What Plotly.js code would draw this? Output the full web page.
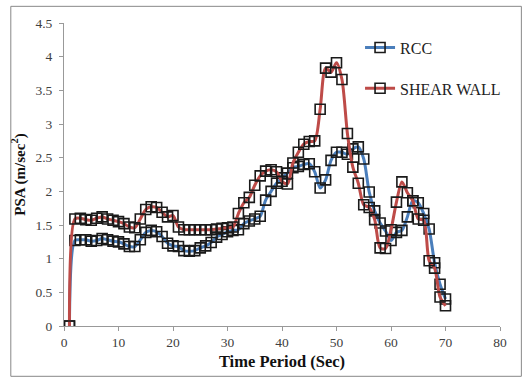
<!DOCTYPE html>
<html>
<head>
<meta charset="utf-8">
<script src="https://cdn.plot.ly/plotly-3.0.1.min.js"></script>
<style>html,body{margin:0;padding:0;background:#fff;}#chart{width:524px;height:379px;}</style>
</head>
<body>
<div id="chart"></div>
<script>
const timePeriod = [1,2,3,4,5,6,7,8,9,10,11,12,13,14,15,16,17,18,19,20,21,22,23,24,25,26,27,28,29,30,31,32,33,34,35,36,37,38,39,40,41,42,43,44,45,46,47,48,49,50,51,52,53,54,55,56,57,58,59,60,61,62,63,64,65,66,67,68,69,70];

const rccPSA = [0,1.27,1.28,1.28,1.26,1.27,1.30,1.28,1.26,1.25,1.22,1.18,1.18,1.28,1.39,1.42,1.40,1.33,1.23,1.19,1.18,1.12,1.11,1.12,1.16,1.19,1.24,1.32,1.36,1.40,1.42,1.43,1.52,1.56,1.59,1.63,1.87,2.00,2.12,2.20,2.27,2.35,2.37,2.40,2.41,2.29,2.05,2.17,2.46,2.58,2.58,2.55,2.63,2.66,2.48,1.99,1.71,1.53,1.41,1.27,1.39,1.42,1.62,1.86,1.83,1.67,1.44,0.94,0.62,0.40];

const shearWallPSA = [0,1.59,1.60,1.58,1.57,1.60,1.62,1.59,1.57,1.55,1.52,1.47,1.46,1.59,1.73,1.77,1.76,1.69,1.62,1.64,1.47,1.43,1.43,1.43,1.43,1.43,1.43,1.44,1.45,1.46,1.47,1.67,1.83,1.91,2.09,2.23,2.30,2.32,2.29,2.15,2.11,2.42,2.58,2.70,2.74,2.75,3.22,3.83,3.77,3.91,3.66,2.86,2.36,2.12,1.80,1.76,1.58,1.16,1.15,1.43,1.84,2.14,1.98,1.86,1.59,1.57,0.97,0.86,0.43,0.30];

const seriesNames = ['RCC', 'SHEAR WALL'];
const xTicks = [0,10,20,30,40,50,60,70,80];
const yTicks = [0,0.5,1,1.5,2,2.5,3,3.5,4,4.5];
const yTickText = ['0','0.5','1','1.5','2','2.5','3','3.5','4','4.5'];

const serif = 'Liberation Serif';
const markerStyle = {symbol: 'square-open', size: 10, color: '#1a1a1a', line: {width: 1.6, color: '#1a1a1a'}};

const traces = [
  {x: timePeriod, y: rccPSA, name: seriesNames[0], type: 'scatter', mode: 'lines+markers',
   line: {color: '#4A7EBB', width: 3, shape: 'spline', smoothing: 0.8}, marker: markerStyle, legendgroup: 'a'},
  {x: timePeriod, y: shearWallPSA, name: seriesNames[1], type: 'scatter', mode: 'lines+markers',
   line: {color: '#BE4B48', width: 3, shape: 'spline', smoothing: 0.8}, marker: markerStyle, legendgroup: 'b'}
];

const layout = {
  width: 524, height: 379,
  font: {family: serif},
  margin: {l: 64, r: 24, t: 23, b: 53},
  paper_bgcolor: '#fff', plot_bgcolor: '#fff',
  showlegend: true,
  legend: {x: 0.679, y: 0.975, xanchor: 'left', yanchor: 'top', bgcolor: 'rgba(0,0,0,0)',
           font: {family: serif, size: 16, color: '#222'}, tracegroupgap: 17, traceorder: 'grouped', itemwidth: 30},
  xaxis: {range: [0, 80], tickvals: xTicks, ticks: 'outside', ticklen: 4, tickcolor: '#999', showline: true,
          linecolor: '#999', linewidth: 1, showgrid: false, zeroline: false,
          tickfont: {family: serif, size: 13.5, color: '#404040'},
          title: {text: 'Time Period (Sec)', font: {family: serif, size: 16.5, color: '#111', weight: 'bold'}, standoff: 6}},
  yaxis: {range: [0, 4.5], tickvals: yTicks, ticktext: yTickText, ticks: 'outside', ticklen: 4, tickcolor: '#999', showline: true,
          linecolor: '#999', linewidth: 1, showgrid: false, zeroline: false, ticklabelstandoff: 4,
          tickfont: {family: serif, size: 13.5, color: '#404040'},
          title: {text: 'PSA (m/sec<sup>2</sup>)', font: {family: serif, size: 15, color: '#111', weight: 'bold'}, standoff: 6}},
  shapes: [{type: 'rect', xref: 'paper', yref: 'paper', x0: -0.122, x1: 1.049, y0: -0.166, y1: 1.055,
            line: {color: '#888', width: 1}, fillcolor: 'rgba(0,0,0,0)'}]
};

Plotly.newPlot('chart', traces, layout, {displayModeBar: false, staticPlot: true});
</script>
</body>
</html>
